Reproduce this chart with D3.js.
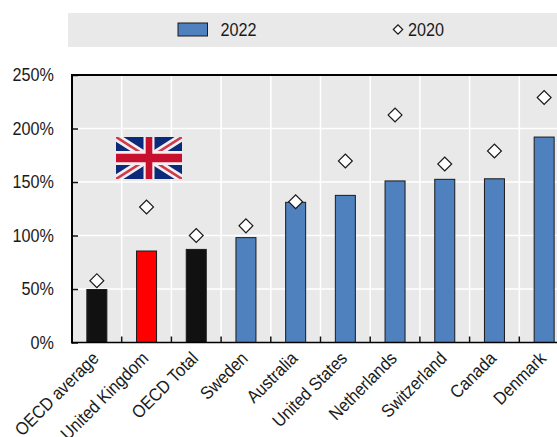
<!DOCTYPE html>
<html>
<head>
<meta charset="utf-8">
<script src="https://cdn.jsdelivr.net/npm/d3@7"></script>
<style>
html,body{margin:0;padding:0;background:#fff;overflow:hidden}
svg{display:block}
text{font-family:"Liberation Sans",Arial,sans-serif;fill:#1a1a1a}
</style>
</head>
<body>
<div id="chart"></div>
<script>
// Data
const categories = ["OECD average","United Kingdom","OECD Total","Sweden","Australia","United States","Netherlands","Switzerland","Canada","Denmark"];
const values2022 = [49.5,85.5,87,98,131,137.5,151,152.5,153,192];
const values2020 = [57.8,126.6,100,109,131.5,169.6,212.6,166.8,179,229];
const barColors = ["#111111","#ff0000","#111111","#4e81bd","#4e81bd","#4e81bd","#4e81bd","#4e81bd","#4e81bd","#4e81bd"];
const yTicks = [0,50,100,150,200,250];
const seriesNames = ["2022","2020"];

// Layout
const W = 557, H = 437;
const plot = {left:72, right:569, top:75, bottom:342.5};
const BLUE = "#4e81bd", PANEL = "#e9e9e9";
const FONT_SIZE = 18, NARROW = "scale(0.9,1)";

const svg = d3.select("#chart").append("svg").attr("width",W).attr("height",H);
const x = d3.scaleBand().domain(categories).range([plot.left,plot.right]);
const y = d3.scaleLinear().domain([0,250]).range([plot.bottom,plot.top]);
const barW = 20;

// Legend strip
svg.append("rect").attr("x",68).attr("y",13).attr("width",W-68).attr("height",34).attr("fill",PANEL);
svg.append("rect").attr("x",178).attr("y",23).attr("width",29.5).attr("height",13)
  .attr("fill",BLUE).attr("stroke","#1a1a1a").attr("stroke-width",1);
const legendText = (px,s)=>svg.append("text")
  .attr("transform",`translate(${px},36) ${NARROW}`)
  .attr("font-size",FONT_SIZE).text(s);
legendText(220.5,seriesNames[0]);
svg.append("path")
  .attr("d",d3.symbol(d3.symbolSquare,44)())
  .attr("fill","#fff").attr("stroke","#1a1a1a").attr("stroke-width",1.2)
  .attr("transform","translate(398,29.5) rotate(45)");
legendText(408,seriesNames[1]);

// Plot panel and white grid
svg.append("rect").attr("x",plot.left).attr("y",plot.top)
  .attr("width",plot.right-plot.left).attr("height",plot.bottom-plot.top).attr("fill",PANEL);
svg.append("g").selectAll("line").data(yTicks.filter(d=>d>0&&d<250)).join("line")
  .attr("x1",plot.left).attr("x2",plot.right).attr("y1",d=>y(d)).attr("y2",d=>y(d))
  .attr("stroke","#fff").attr("stroke-width",1.6);
const edges = categories.slice(1);
svg.append("g").selectAll("line").data(edges).join("line")
  .attr("x1",d=>x(d)).attr("x2",d=>x(d)).attr("y1",plot.top).attr("y2",plot.bottom)
  .attr("stroke","#fff").attr("stroke-width",1.6);

// Bars for the latest year
svg.append("g").selectAll("rect").data(categories).join("rect")
  .attr("x",d=>x(d)+x.bandwidth()/2-barW/2)
  .attr("width",barW)
  .attr("y",(d,i)=>y(values2022[i]))
  .attr("height",(d,i)=>y(0)-y(values2022[i]))
  .attr("fill",(d,i)=>barColors[i])
  .attr("stroke","#1a1a1a").attr("stroke-width",1);

// Union Jack above the United Kingdom column
const flagW = 66, flagH = 42;
const flag = svg.append("svg")
  .attr("x",116)
  .attr("y",137)
  .attr("width",flagW).attr("height",flagH)
  .attr("viewBox","0 0 60 30").attr("preserveAspectRatio","none");
flag.append("rect").attr("width",60).attr("height",30).attr("fill","#0b2a7a");
flag.append("path").attr("d","M0,0L60,30M60,0L0,30").attr("stroke","#f3eef0").attr("stroke-width",6);
flag.append("path").attr("d","M0,0L60,30M60,0L0,30").attr("stroke","#cf3a4a").attr("stroke-width",2);
flag.append("path").attr("d","M30,0V30M0,15H60").attr("stroke","#f3eef0").attr("stroke-width",10);
flag.append("path").attr("d","M30,0V30M0,15H60").attr("stroke","#c8102e").attr("stroke-width",6);

// Diamond markers for the earlier year
svg.append("g").selectAll("path").data(categories).join("path")
  .attr("d",d3.symbol(d3.symbolSquare,96)())
  .attr("transform",(d,i)=>`translate(${x(d)+x.bandwidth()/2},${y(values2020[i])}) rotate(45)`)
  .attr("fill","#fff").attr("stroke","#1a1a1a").attr("stroke-width",1.2);

// Axes
const yAxis = d3.axisLeft(y).tickValues(yTicks).tickFormat(d=>d+"%").tickSize(-6);
const gy = svg.append("g").attr("transform",`translate(${plot.left},0)`).call(yAxis);
gy.select(".domain").remove();
gy.selectAll("line").attr("stroke","#111").attr("stroke-width",1.5);
gy.selectAll("text").attr("font-size",FONT_SIZE).attr("fill","#1a1a1a").attr("font-family",null)
  .attr("x",0).attr("transform",`translate(-18,0) ${NARROW}`);

const xAxis = d3.axisBottom(x).tickSize(0).tickPadding(0);
const gx = svg.append("g").attr("transform",`translate(0,${plot.bottom})`).call(xAxis);
gx.select(".domain").remove();
gx.selectAll("text")
  .attr("font-size",FONT_SIZE).attr("fill","#1a1a1a").attr("font-family",null)
  .attr("text-anchor","end").attr("dy",null).attr("y",0).attr("x",0)
  .attr("transform",`translate(3,17) rotate(-45) ${NARROW}`);

// Small ticks standing on the baseline between columns
svg.append("g").selectAll("line").data(edges).join("line")
  .attr("x1",d=>x(d)).attr("x2",d=>x(d)).attr("y1",plot.bottom).attr("y2",plot.bottom-6)
  .attr("stroke","#111").attr("stroke-width",1.5);

// Frame lines
const frame = svg.append("g").attr("stroke","#000");
frame.append("line").attr("x1",plot.left).attr("x2",plot.left).attr("y1",plot.top-1).attr("y2",plot.bottom+1).attr("stroke-width",2);
frame.append("line").attr("x1",plot.left).attr("x2",plot.right).attr("y1",plot.top).attr("y2",plot.top).attr("stroke-width",2);
frame.append("line").attr("x1",plot.left).attr("x2",plot.right).attr("y1",plot.bottom).attr("y2",plot.bottom).attr("stroke-width",1.5);
</script>
</body>
</html>
